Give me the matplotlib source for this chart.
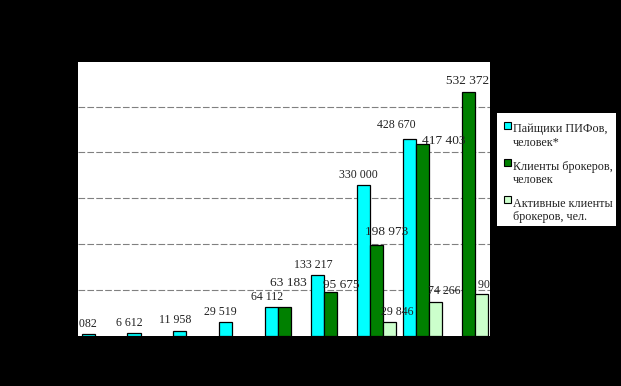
import matplotlib
matplotlib.use("Agg")
import matplotlib.pyplot as plt
from matplotlib.patches import Rectangle
import numpy as np

# ---- data ----
groups = list(range(9))
pif_holders = [4082, 6612, 11958, 29519, 64112, 133217, 330000, 428670, None]
broker_clients = [None, None, None, None, 63183, 95675, 198973, 417403, 532372]
active_clients = [None, None, None, None, None, None, 29846, 74266, 90600]
series_names = ["Пайщики ПИФов,\nчеловек*", "Клиенты брокеров,\nчеловек",
                "Активные клиенты\nброкеров, чел."]

# ---- label offsets (pixels, relative to bar top centre) ----
pif_off = [(-5, 10), (-5, 10), (-5, 10.5), (-5, 10), (-5, 9.3), (-4.6, 10.2), (-4.7, 10), (-13.5, 14.5), (0, 0)]
brk_off = [(0, 0)] * 4 + [(4, 24.3), (11, 6.8), (10, 12.8), (21, 3.5), (-1, 10.5)]
act_off = [(0, 0)] * 6 + [(7.7, 10.3), (9, 11), (13, 9.8)]

colors = ["#00FFFF", "#008000", "#CCFFCC"]
W, H = 621, 386
fig = plt.figure(figsize=(W / 100, H / 100), dpi=100, facecolor="black")
ax = fig.add_axes([78 / W, (H - 336) / H, (490 - 78) / W, (336 - 62) / H])
ax.set_facecolor("white")
for s in ax.spines.values():
    s.set_visible(False)
ax.set_xticks([])
ax.set_yticks([100000, 200000, 300000, 400000, 500000])
ax.tick_params(left=False, labelleft=False)
ax.yaxis.grid(True, color="#808080", linestyle=(0, (6, 2)), linewidth=0.8)
ax.set_axisbelow(True)

w = 0.285
x = np.array(groups, dtype=float)
series = [pif_holders, broker_clients, active_clients]
offsets = [pif_off, brk_off, act_off]
fsizes = [8.6, 9.6, 8.6]

def fmt(v):
    return f"{v:,}".replace(",", " ")

for k, (vals, col, offs, fs) in enumerate(zip(series, colors, offsets, fsizes)):
    xs = [xi + (k - 1) * w for xi, v in zip(x, vals) if v is not None]
    ys = [v for v in vals if v is not None]
    ax.bar(xs, ys, width=w, color=col, edgecolor="black", linewidth=0.9, zorder=2)
    for xi, v, off in zip(x, vals, offs):
        if v is None:
            continue
        t = ax.annotate(fmt(v), (xi + (k - 1) * w, v), xytext=(off[0], off[1]),
                        textcoords="offset pixels", ha="center", va="center",
                        fontsize=fs, family="Liberation Serif", color="#222222",
                        annotation_clip=False, zorder=3)
        t.set_clip_on(True)
        t.set_clip_box(ax.bbox)

ax.set_xlim(-0.505, 8.471)
ax.set_ylim(0, 597000)

# ---- legend (drawn in figure pixel coordinates) ----
def fx(px):
    return px / W

def fy(py):
    return 1 - py / H

fig.patches.append(Rectangle((fx(496.7), fy(226)), fx(616) - fx(496.7), fy(113.3) - fy(226),
                             transform=fig.transFigure, facecolor="white", edgecolor="none",
                             zorder=5))
for i, (name, col) in enumerate(zip(series_names, colors)):
    yc = 125.3 + i * 37.2
    fig.patches.append(Rectangle((fx(503.5), fy(yc + 3.5)), fx(7.5), 7 / H,
                                 transform=fig.transFigure, facecolor=col,
                                 edgecolor="black", linewidth=0.8, zorder=6))
    fig.text(fx(513.3), fy(yc + 20.5), name, ha="left", va="baseline",
             fontsize=8.7, family="Liberation Serif", color="#222222",
             linespacing=1.16, zorder=7)

fig.savefig("out.png", dpi=100, facecolor="black")
